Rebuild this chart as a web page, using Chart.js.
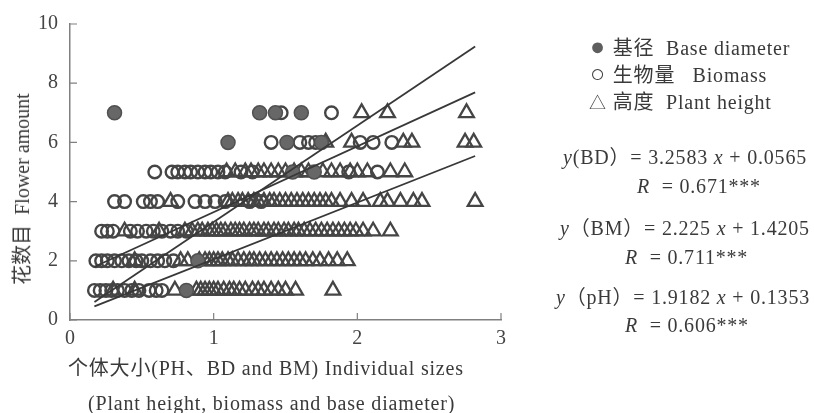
<!DOCTYPE html>
<html>
<head>
<meta charset="utf-8">
<script src="https://cdn.jsdelivr.net/npm/chart.js@4.4.1/dist/chart.umd.min.js"></script>
<style>
  body { margin: 0; background: #fff; }
  #wrap { position: relative; width: 814px; height: 413px; }
  .txt { position: absolute; white-space: nowrap; color: #3a3a3a;
         font-family: "Liberation Serif", "Noto Sans CJK SC", serif; font-size: 20px; line-height: 26px;
         letter-spacing: 0.8px; }
  .txt i { font-style: italic; }
  .sym { display: inline-block; width: 18px; text-align: center; font-size: 25px; line-height: 20px; }
  .tri { display: inline-block; width: 18px; text-align: center; font-size: 17px; line-height: 20px; }
  #ytitle { left: 22px; top: 189px; letter-spacing: 0; transform: translate(-50%, -50%) rotate(-90deg); }
</style>
</head>
<body>
<div id="wrap">
  <canvas id="chart" width="814" height="413"></canvas>
  <div class="txt" id="ytitle">花数目&nbsp;&nbsp;Flower amount</div>
  <div class="txt" style="left:68px; top:355px;">个体大小(PH、BD and BM) Individual sizes</div>
  <div class="txt" style="left:88px; top:390px;">(Plant height, biomass and base diameter)</div>

  <div class="txt" style="left:589px; top:35px;"><span class="sym" style="color:#5e5e5e">●</span> 基径&nbsp;&nbsp;Base diameter</div>
  <div class="txt" style="left:589px; top:62px;"><span class="sym" style="color:#444">○</span> 生物量&nbsp;&nbsp;&nbsp;Biomass</div>
  <div class="txt" style="left:589px; top:89px;"><span class="tri" style="color:#444">△</span> 高度&nbsp;&nbsp;Plant height</div>

  <div class="txt" style="left:563px; top:144px;"><i>y</i>(BD）= 3.2583 <i>x</i> + 0.0565</div>
  <div class="txt" style="left:637px; top:173px;"><i>R</i>&nbsp; = 0.671***</div>
  <div class="txt" style="left:560px; top:215px;"><i>y</i>（BM）= 2.225 <i>x</i> + 1.4205</div>
  <div class="txt" style="left:625px; top:244px;"><i>R</i>&nbsp; = 0.711***</div>
  <div class="txt" style="left:556px; top:284px;"><i>y</i>（pH）= 1.9182 <i>x</i> + 0.1353</div>
  <div class="txt" style="left:625px; top:312px;"><i>R</i>&nbsp; = 0.606***</div>
</div>
<script>
// base diameter (filled circles)
var bdX = [0.31, 1.32, 1.43, 1.61, 1.10, 1.51, 1.75, 1.55, 1.70, 0.89, 0.81];
var bdY = [7, 7, 7, 7, 6, 6, 6, 5, 5, 2, 1];

// biomass (open circles), x values per flower count
var bmRow1 = [0.17, 0.21, 0.25, 0.29, 0.33, 0.38, 0.43, 0.48, 0.55, 0.60, 0.64];
var bmRow2 = [0.18, 0.22, 0.26, 0.31, 0.36, 0.41, 0.46, 0.50, 0.56, 0.61, 0.66, 0.72];
var bmRow3 = [0.22, 0.26, 0.30, 0.42, 0.47, 0.53, 0.58, 0.64, 0.70, 0.75, 0.81];
var bmRow4 = [0.31, 0.38, 0.51, 0.56, 0.61, 0.75, 0.87, 0.94, 1.01, 1.08, 1.25, 1.33];
var bmRow5 = [0.59, 0.71, 0.75, 0.80, 0.84, 0.89, 0.94, 0.98, 1.03, 1.08, 1.19, 1.27, 1.94, 2.14];
var bmRow6 = [1.40, 1.60, 1.66, 1.71, 2.02, 2.11, 2.24];
var bmRow7 = [1.47, 1.82];

// plant height (triangles), x values per flower count
var phRow1 = [0.30, 0.45, 0.73, 0.88, 0.91, 0.94, 0.97, 1.00, 1.03, 1.07, 1.11, 1.14, 1.18, 1.22,
              1.27, 1.31, 1.35, 1.40, 1.45, 1.50, 1.57, 1.83];
var phRow2 = [0.45, 0.77, 0.82, 0.90, 0.94, 0.97, 1.00, 1.03, 1.06, 1.10, 1.13, 1.17, 1.21, 1.25,
              1.28, 1.32, 1.36, 1.40, 1.44, 1.48, 1.52, 1.56, 1.60, 1.64, 1.69, 1.74, 1.80, 1.86, 1.93];
var phRow3 = [0.38, 0.62, 0.80, 0.85, 0.89, 0.92, 0.96, 0.99, 1.02, 1.05, 1.08, 1.12, 1.15, 1.18,
              1.21, 1.25, 1.28, 1.31, 1.35, 1.38, 1.42, 1.45, 1.49, 1.52, 1.56, 1.59, 1.63, 1.67,
              1.71, 1.75, 1.79, 1.83, 1.87, 1.91, 1.95, 1.99, 2.04, 2.11, 2.23];
var phRow4 = [0.70, 1.10, 1.13, 1.17, 1.20, 1.24, 1.28, 1.31, 1.35, 1.39, 1.42, 1.46, 1.50, 1.54,
              1.58, 1.62, 1.66, 1.70, 1.74, 1.78, 1.82, 1.88, 1.96, 2.04, 2.16, 2.21, 2.30, 2.39, 2.45, 2.82];
var phRow5 = [1.09, 1.15, 1.22, 1.26, 1.31, 1.35, 1.40, 1.45, 1.50, 1.56, 1.61, 1.66, 1.76, 1.82,
              1.88, 1.95, 2.00, 2.07, 2.23, 2.33];
var phRow6 = [1.78, 1.96, 2.32, 2.38, 2.75, 2.81];
var phRow7 = [2.03, 2.21, 2.76];

// regression lines, end points
var lineBD = [[0.17, 0.61], [2.82, 9.24]];
var lineBM = [[0.17, 1.80], [2.82, 7.69]];
var linePH = [[0.17, 0.46], [2.82, 5.54]];

var xTicks = [0, 1, 2, 3];
var yTicks = [0, 2, 4, 6, 8, 10];

function rows(list) {
  var pts = [];
  list.forEach(function (r, i) {
    r.forEach(function (x) { pts.push({ x: x, y: i + 1 }); });
  });
  return pts;
}
function pairs(a) { return a.map(function (p) { return { x: p[0], y: p[1] }; }); }

var bdPts = bdX.map(function (x, i) { return { x: x, y: bdY[i] }; });
var bmPts = rows([bmRow1, bmRow2, bmRow3, bmRow4, bmRow5, bmRow6, bmRow7]);
var phPts = rows([phRow1, phRow2, phRow3, phRow4, phRow5, phRow6, phRow7]);

var ink = '#454545';

function lineSet(d) {
  return { type: 'line', data: pairs(d), borderColor: '#383838', borderWidth: 1.8,
           pointRadius: 0, fill: false, order: 0 };
}

// short tick marks pointing into the plot
var innerTicks = {
  id: 'innerTicks',
  afterDatasetsDraw: function (chart) {
    var c = chart.ctx, xs = chart.scales.x, ys = chart.scales.y;
    c.save();
    c.strokeStyle = '#808080';
    c.lineWidth = 1.2;
    c.beginPath();
    yTicks.forEach(function (v) {
      var py = ys.getPixelForValue(v);
      c.moveTo(xs.left, py); c.lineTo(xs.left + 7, py);
    });
    xTicks.forEach(function (v) {
      var px = xs.getPixelForValue(v);
      c.moveTo(px, ys.bottom); c.lineTo(px, ys.bottom - 7);
    });
    c.stroke();
    c.restore();
  }
};

new Chart('chart', {
  type: 'scatter',
  data: {
    datasets: [
      lineSet(lineBD), lineSet(lineBM), lineSet(linePH),
      { label: '基径 Base diameter', data: bdPts, pointStyle: 'circle', pointRadius: 7,
        backgroundColor: '#676767', borderColor: '#505050', borderWidth: 1.5, order: 1 },
      { label: '生物量 Biomass', data: bmPts, pointStyle: 'circle', pointRadius: 6.3,
        backgroundColor: 'rgba(0,0,0,0)', borderColor: ink, borderWidth: 2.4, order: 2 },
      { label: '高度 Plant height', data: phPts, pointStyle: 'triangle', pointRadius: 8.5,
        backgroundColor: 'rgba(0,0,0,0)', borderColor: ink, borderWidth: 2.3, order: 3 }
    ]
  },
  options: {
    responsive: false,
    animation: false,
    clip: false,
    layout: { padding: { left: 0, top: 13, right: 313, bottom: 0 } },
    plugins: { legend: { display: false }, tooltip: { enabled: false } },
    scales: {
      x: {
        type: 'linear', min: 0, max: 3,
        afterFit: function (s) { s.height = 93; },
        afterBuildTicks: function (s) { s.ticks = xTicks.map(function (v) { return { value: v }; }); },
        grid: { display: false, drawTicks: false },
        border: { display: true, color: '#808080', width: 1.5 },
        ticks: { padding: 7, color: '#444', font: { family: 'Liberation Serif', size: 20 } }
      },
      y: {
        type: 'linear', min: 0, max: 10,
        afterFit: function (s) { s.width = 70; },
        afterBuildTicks: function (s) { s.ticks = yTicks.map(function (v) { return { value: v }; }); },
        grid: { display: false, drawTicks: false },
        border: { display: true, color: '#808080', width: 1.5 },
        ticks: { padding: 12, color: '#444', font: { family: 'Liberation Serif', size: 20 } }
      }
    }
  },
  plugins: [innerTicks]
});
</script>
</body>
</html>
